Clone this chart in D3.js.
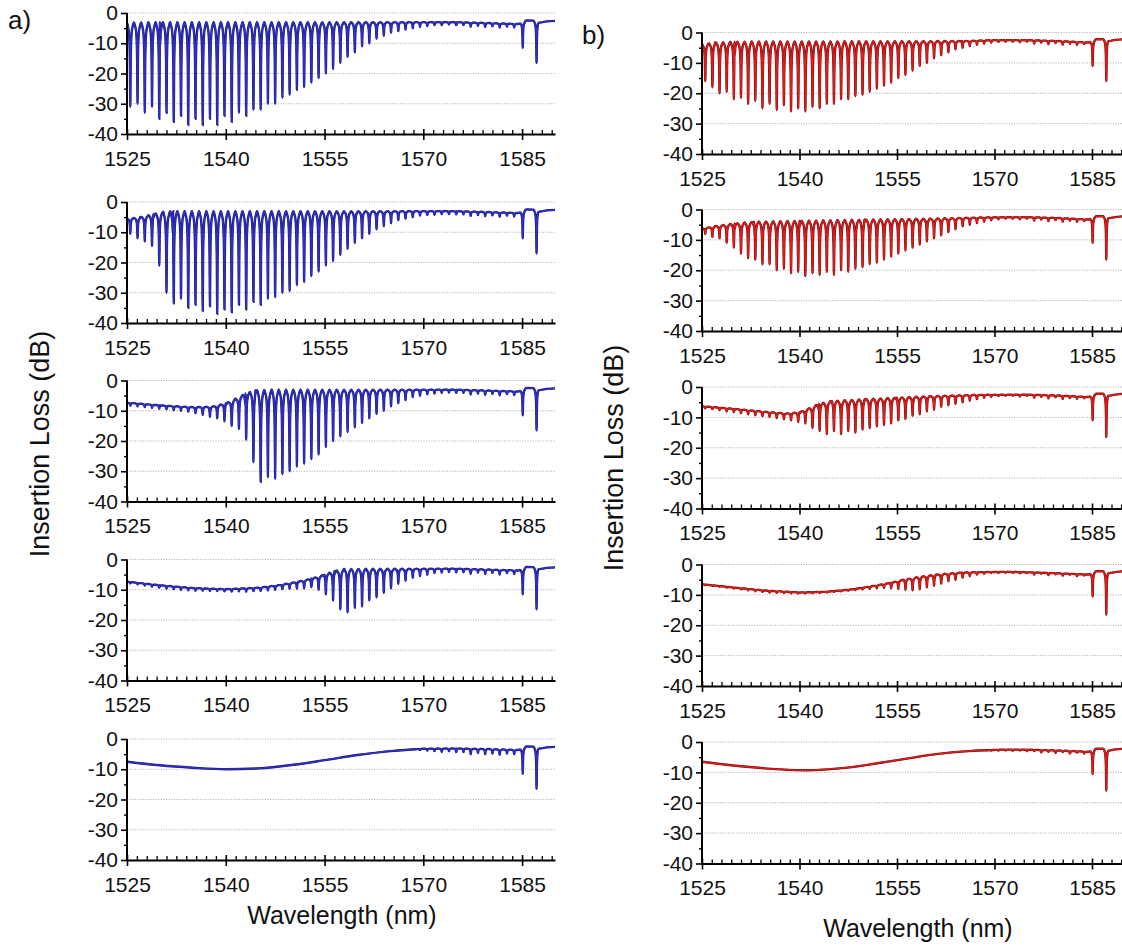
<!DOCTYPE html>
<html><head><meta charset="utf-8">
<script src="https://cdn.jsdelivr.net/npm/d3@7"></script>
<style>
body{margin:0;background:#fff}
svg{display:block}
text{font-family:"Liberation Sans",Arial,sans-serif;fill:#111}
</style>
</head><body>
<svg id="chart" width="1122" height="947"></svg>
<script>
// ---------------- DATA ----------------
const xTickLabels = [1525, 1540, 1555, 1570, 1585];
const yTickLabels = [0, -10, -20, -30, -40];
const yMinorTicks = [-5, -15, -25, -35];
const panelLabels = ["a)", "b)"];
const xTitle = "Wavelength (nm)";
const yTitle = "Insertion Loss (dB)";

// resonance dip centres (nm), shared by every trace
const dipWavelengths = [1525.5,1526.6,1527.7,1528.8,1529.9,1531.0,1532.1,1533.2,1534.3,1535.4,
  1536.5,1537.6,1538.7,1539.8,1540.9,1542.0,1543.1,1544.2,1545.3,1546.4,
  1547.5,1548.6,1549.7,1550.8,1551.9,1553.0,1554.1,1555.2,1556.3,1557.4,
  1558.5,1559.6,1560.7,1561.8,1562.9,1564.0,1565.1,1566.2,1567.3,1568.4,
  1569.5,1570.6,1571.7,1572.8,1573.9,1575.0,1576.1,1577.2,1578.3,1579.4,
  1580.5,1581.6,1582.7,1583.8];
// the two fixed notches near 1585 nm
const notchWavelengths = [1585.1, 1587.2];

// upper envelope [wavelength, dB] of each trace
const envA1 = [[1525,-3.2],[1530,-3],[1575,-3],[1584.5,-3.6],[1585.6,-2.5],[1593,-2.7]];
const envA2 = [[1525,-5.5],[1527,-5],[1529,-4],[1530.5,-3.2],[1532,-3],[1575,-3],[1584.5,-3.6],[1585.6,-2.5],[1593,-2.7]];
const envA3 = [[1525,-7.3],[1530,-8.2],[1535,-8.8],[1538,-8.6],[1540,-7.5],[1541.5,-6],[1543,-4.2],[1544.5,-3.2],[1547,-3],[1575,-3],[1584.5,-3.6],[1585.6,-2.5],[1593,-2.7]];
const envA4 = [[1525,-7.3],[1530,-8.5],[1535,-9.4],[1540,-9.8],[1545,-9.3],[1548,-8.5],[1551,-7.3],[1553,-6.3],[1555,-5],[1556.5,-3.8],[1558,-3.1],[1575,-3],[1584.5,-3.6],[1585.6,-2.5],[1593,-2.7]];
const envA5 = [[1525,-7.5],[1530,-8.7],[1535,-9.5],[1540,-10],[1545,-9.7],[1550,-8.6],[1555,-7],[1560,-5.3],[1565,-4],[1570,-3.2],[1575,-3.1],[1580,-3.3],[1584.5,-3.6],[1585.6,-2.5],[1593,-2.7]];
const envB1 = [[1525,-3.8],[1527,-3.3],[1530,-3],[1565,-2.8],[1570,-2.5],[1575,-2.5],[1580,-2.8],[1584.5,-3.3],[1585.6,-2.2],[1593,-2.3]];
const envB2 = [[1525,-6.3],[1527,-5.5],[1530,-4.6],[1533,-4],[1540,-3.7],[1550,-3.3],[1560,-3],[1568,-2.6],[1575,-2.5],[1580,-2.8],[1584.5,-3.3],[1585.6,-2.2],[1593,-2.3]];
const envB3 = [[1525,-6.3],[1530,-7.2],[1535,-8.2],[1538,-8.7],[1540,-8.3],[1541.5,-7],[1543,-5.5],[1545,-4.6],[1550,-4],[1555,-3.5],[1560,-3],[1567,-2.6],[1575,-2.5],[1580,-2.8],[1584.5,-3.3],[1585.6,-2.2],[1593,-2.3]];
const envB4 = [[1525,-6.5],[1530,-7.6],[1535,-8.6],[1540,-9.2],[1544,-9],[1548,-8.2],[1551,-7.2],[1554,-6],[1556,-5],[1558,-4.2],[1561,-3.3],[1565,-2.6],[1572,-2.4],[1576,-2.6],[1580,-2.9],[1584.5,-3.3],[1585.6,-2.2],[1593,-2.3]];
const envB5 = [[1525,-6.5],[1531,-8],[1537,-9],[1541,-9.3],[1547,-8.5],[1552,-7],[1557,-5.3],[1561,-4],[1566,-3],[1571,-2.5],[1575,-2.5],[1580,-2.8],[1584.5,-3.2],[1585.6,-2.2],[1593,-2.3]];

// minimum (dB) of every dip, one per dipWavelengths entry (null = no dip)
const depthsA1 = [-31,-30,-33,-31,-35,-33,-36,-34,-37,-35,
  -37,-35,-37,-34,-36,-33,-34,-32,-32,-30,
  -30,-28,-27,-25.5,-24.5,-23,-21.5,-20,-18.5,-16.5,
  -14.5,-13,-11,-10,-8.5,-7.5,-6.5,-6,-5.5,-5,
  -4.6,-4.3,-4,-4,-3.8,-4.2,-4,-4.5,-4.2,-4.6,
  -4.4,-4.8,-4.5,-4.8];
const depthsA2 = [-10.5,-12,-13,-14.5,-21,-30,-33.5,-32,-35,-34,
  -36,-34.5,-37,-35.5,-36.5,-34,-35.5,-33,-34,-32,
  -31.5,-30,-29.5,-27.5,-26.5,-24.5,-23,-21,-19.5,-17.5,
  -15.5,-13.5,-12,-10.5,-9,-8,-7,-6,-5.5,-5,
  -4.5,-4.3,-4.2,-4,-4,-4.3,-4.1,-4.6,-4.3,-4.7,
  -4.4,-4.9,-4.5,-4.8];
const depthsA3 = [-8.3,-8.5,-8.8,-9,-9.3,-9.5,-9.8,-10,-10.3,-10.8,
  -11.3,-12,-12.5,-13.5,-15,-16,-19.5,-27,-33.5,-32,
  -32.5,-31,-30,-28.5,-27.5,-26,-24.5,-22,-20,-18.5,
  -17,-15.5,-14,-12.5,-11,-10,-8.5,-7.5,-6.5,-5.5,
  -5,-4.6,-4.3,-4.1,-4,-4.3,-4.1,-4.6,-4.3,-4.7,
  -4.4,-4.9,-4.5,-4.8];
const depthsA4 = [-7.9,-8.2,-8.6,-9,-9.3,-9.6,-9.8,-10,-10.2,-10.3,
  -10.3,-10.4,-10.4,-10.5,-10.6,-10.5,-10.6,-10.4,-10.4,-10.2,
  -10,-9.8,-9.6,-9.6,-9.5,-9.6,-10,-11.5,-13.5,-16.5,
  -17.5,-16,-15.5,-13.5,-12.5,-11,-9.5,-8,-7,-6,
  -5.5,-5,-4.5,-4.3,-4.1,-4.4,-4.2,-4.7,-4.3,-4.8,
  -4.4,-5,-4.5,-4.8];
const depthsA5 = [null,null,null,null,null,null,null,null,null,null,
  null,null,null,null,null,null,null,null,null,null,
  null,null,null,null,null,null,null,null,null,null,
  null,null,null,null,null,null,null,null,null,null,
  -3.6,-3.8,-4,-4.2,-4,-4.5,-4.3,-5,-4.6,-5,
  -4.8,-5.2,-4.8,-5];
const depthsB1 = [-16,-18,-20,-19.5,-22,-21.5,-23.5,-22.5,-25,-23.5,
  -25.5,-24,-26,-25,-26,-24.5,-25,-23.5,-23.5,-22,
  -22,-21,-20.5,-19.5,-18.5,-17.5,-16.5,-15,-14,-12.5,
  -11,-10,-8.5,-7.5,-6.5,-5.5,-5,-4.5,-4,-3.6,
  -3.3,-3.1,-3,-3,-3.2,-3.1,-3.6,-3.3,-3.8,-3.5,
  -4,-3.7,-4,-3.8];
const depthsB2 = [-8,-9,-9.5,-11,-12.5,-14.5,-16,-16.5,-18,-18,
  -20,-19.5,-21,-20.5,-22,-21,-21.5,-20.5,-21.5,-20,
  -20.5,-19.5,-19,-18,-17.5,-16.5,-15.5,-14.5,-13.5,-12.5,
  -11.5,-10.5,-9.5,-8.5,-7.5,-6.5,-5.5,-5,-4.5,-4,
  -3.5,-3.2,-3,-3,-3.2,-3.1,-3.6,-3.3,-3.8,-3.5,
  -4,-3.7,-4,-3.8];
const depthsB3 = [-7,-7.3,-7.6,-8,-8.3,-8.6,-9,-9.3,-9.6,-9.8,
  -10.2,-10.6,-11,-11.5,-12,-13.5,-14.5,-15.5,-14.5,-15.5,
  -14.5,-15,-14,-13.5,-13,-12.5,-12,-11,-10.5,-9.5,
  -9,-8,-7.5,-6.5,-6,-5.5,-5,-4.5,-4,-3.5,
  -3.2,-3,-2.9,-2.9,-3.1,-3,-3.5,-3.2,-3.7,-3.4,
  -3.9,-3.6,-3.9,-3.7];
const depthsB4 = [-6.8,-7,-7.3,-7.6,-7.9,-8.2,-8.5,-8.8,-9,-9.2,
  -9.3,-9.4,-9.5,-9.5,-9.5,-9.4,-9.3,-9.2,-9,-8.8,
  -8.6,-8.4,-8.2,-8,-7.8,-7.7,-7.8,-8,-8.3,-8.5,
  -8.2,-7.5,-7,-6.3,-5.5,-5,-4.3,-3.8,-3.3,-3,
  -2.8,-2.7,-2.7,-2.7,-2.9,-2.8,-3.3,-3,-3.5,-3.2,
  -3.7,-3.4,-3.8,-3.6];
const depthsB5 = [null,null,null,null,null,null,null,null,null,null,
  null,null,null,null,null,null,null,null,null,null,
  null,null,null,null,null,null,null,null,null,null,
  null,null,null,null,null,null,null,null,null,null,
  -2.8,-2.8,-2.8,-2.9,-2.8,-3.1,-3,-3.4,-3.2,-3.6,
  -3.3,-3.8,-3.5,-3.8];

// notch minima (dB) of each trace
const notchA1 = [-11.5,-16.5], notchA2 = [-12,-17], notchA3 = [-11.5,-16.5], notchA4 = [-11.5,-16.5], notchA5 = [-11.5,-16.5];
const notchB1 = [-11,-16], notchB2 = [-11,-16.5], notchB3 = [-11,-16.5], notchB4 = [-10.5,-16.5], notchB5 = [-10.5,-16];

const seriesA = [[envA1,depthsA1,notchA1],[envA2,depthsA2,notchA2],[envA3,depthsA3,notchA3],[envA4,depthsA4,notchA4],[envA5,depthsA5,notchA5]];
const seriesB = [[envB1,depthsB1,notchB1],[envB2,depthsB2,notchB2],[envB3,depthsB3,notchB3],[envB4,depthsB4,notchB4],[envB5,depthsB5,notchB5]];

// ---------------- LAYOUT / STYLE ----------------
const columns = [
  {series: seriesA, x0: 127, x1: 555, dom: [1525, 1590], tops: [13, 202, 380.5, 559.5, 739], h: 121,
   color: "#2e2ec4", under: "#1c1c72", label: panelLabels[0], lx: 8, ly: 29,
   titleX: 342, titleY: 924, yTitleX: 49, yTitleY: 444},
  {series: seriesB, x0: 702, x1: 1124.5, dom: [1525, 1590], tops: [32.5, 209.5, 387, 564.5, 742], h: 121.5,
   color: "#dc1c1c", under: "#6e0c0c", label: panelLabels[1], lx: 582, ly: 44,
   titleX: 918, titleY: 937, yTitleX: 623, yTitleY: 458}
];
// shape of one resonance: [offset as fraction of dip spacing, fraction of dip depth]
const dipProfile = [[-0.5,0],[-0.32,0.05],[-0.2,0.11],[-0.11,0.24],[-0.05,0.5],[-0.018,0.85],[0,1],
                    [0.018,0.85],[0.05,0.5],[0.11,0.24],[0.2,0.11],[0.32,0.05]];
const notchHalf = 0.45;

const svg = d3.select("#chart");
const font = '"Liberation Sans", Arial, sans-serif';

function tracePoints(env, depths, notchDepths, dom) {
  const envS = d3.scaleLinear().domain(env.map(d => d[0])).range(env.map(d => d[1])).clamp(true);
  const pts = [];
  env.forEach(d => pts.push([d[0], d[1]]));
  pts.push([dom[0], envS(dom[0])], [dom[1], envS(dom[1])]);
  dipWavelengths.forEach((w, i) => {
    const dd = depths[i];
    if (dd == null) return;
    const sp = (i < dipWavelengths.length - 1 ? dipWavelengths[i + 1] - w : w - dipWavelengths[i - 1]);
    const mag = envS(w) - dd;
    dipProfile.forEach(([o, f]) => {
      const lw = w + o * sp;
      pts.push([lw, envS(lw) - f * mag]);
    });
  });
  notchWavelengths.forEach((w, i) => {
    const mag = envS(w) - notchDepths[i];
    dipProfile.forEach(([o, f]) => {
      const lw = w + o * 2 * notchHalf;
      pts.push([lw, envS(lw) - f * mag]);
    });
  });
  pts.sort((a, b) => a[0] - b[0]);
  const out = [];
  pts.forEach(p => { if (!out.length || p[0] - out[out.length - 1][0] > 1e-4) out.push(p); });
  return out;
}

columns.forEach((col, ci) => {
  const x = d3.scaleLinear().domain(col.dom).range([col.x0, col.x1]);
  col.series.forEach((s, r) => {
    const top = col.tops[r];
    const y = d3.scaleLinear().domain([-40, 0]).range([top + col.h, top]);
    const g = svg.append("g");

    // grid
    g.selectAll("line.grid").data([0, -10, -20, -30]).join("line")
      .attr("x1", col.x0).attr("x2", col.x1)
      .attr("y1", d => y(d)).attr("y2", d => y(d))
      .attr("stroke", "#b4b4b4").attr("stroke-width", 1).attr("stroke-dasharray", "1.2,1.4");

    // trace
    const clipId = "clip" + ci + r;
    svg.append("clipPath").attr("id", clipId).append("rect")
      .attr("x", col.x0).attr("y", top - 2).attr("width", col.x1 - col.x0).attr("height", col.h + 2);
    const pts = tracePoints(s[0], s[1], s[2], col.dom);
    const line = d3.line().x(d => x(d[0])).y(d => y(d[1])).curve(d3.curveMonotoneX);
    g.append("path").attr("d", line(pts)).attr("fill", "none")
      .attr("stroke", col.under).attr("stroke-width", 2.4).attr("clip-path", `url(#${clipId})`);
    g.append("path").attr("d", line(pts)).attr("fill", "none")
      .attr("stroke", col.color).attr("stroke-width", 1.5).attr("clip-path", `url(#${clipId})`);

    // y axis
    const ya = g.append("g").attr("transform", `translate(${col.x0},0)`)
      .call(d3.axisLeft(y).tickValues(yTickLabels).tickSize(6).tickPadding(3).tickFormat(d => String(d)));
    ya.select(".domain").attr("stroke-width", 2).attr("d", `M0,${y(-40)}V${y(0)}`);
    ya.selectAll(".tick line").attr("stroke-width", 1.6);
    ya.selectAll("text").attr("font-size", 21).attr("font-family", font).attr("fill", "#111");
    const ym = g.append("g").attr("transform", `translate(${col.x0},0)`)
      .call(d3.axisLeft(y).tickValues(yMinorTicks).tickSize(3).tickFormat(""));
    ym.select(".domain").remove();
    ym.selectAll(".tick line").attr("stroke-width", 1.4);

    // x axis
    const xa = g.append("g").attr("transform", `translate(0,${y(-40)})`)
      .call(d3.axisBottom(x).tickValues(xTickLabels).tickSize(6).tickPadding(11).tickSizeOuter(0).tickFormat(d => String(d)));
    xa.select(".domain").attr("stroke-width", 2);
    xa.selectAll(".tick line").attr("stroke-width", 1.6);
    xa.selectAll("text").attr("font-size", 21).attr("font-family", font).attr("fill", "#111");
    const minorX = d3.range(col.dom[0], col.dom[1] + 0.01, 1.5).filter(v => (v - 1525) % 15 !== 0);
    const xm = g.append("g").attr("transform", `translate(0,${y(-40)})`)
      .call(d3.axisBottom(x).tickValues(minorX).tickSize(-4).tickSizeOuter(0).tickFormat(""));
    xm.select(".domain").remove();
    xm.selectAll(".tick line").attr("stroke-width", 1.3);
    const xmaj = g.append("g").attr("transform", `translate(0,${y(-40)})`)
      .call(d3.axisBottom(x).tickValues(xTickLabels).tickSize(-5).tickSizeOuter(0).tickFormat(""));
    xmaj.select(".domain").remove();
    xmaj.selectAll(".tick line").attr("stroke-width", 1.6);
  });

  // titles
  svg.append("text").attr("x", col.lx).attr("y", col.ly).attr("font-size", 26).text(col.label);
  svg.append("text").attr("x", col.titleX).attr("y", col.titleY).attr("text-anchor", "middle")
    .attr("font-size", 25).text(xTitle);
  svg.append("text").attr("transform", `translate(${col.yTitleX},${col.yTitleY}) rotate(-90)`)
    .attr("text-anchor", "middle").attr("font-size", 27).text(yTitle);
});
</script>
</body></html>
